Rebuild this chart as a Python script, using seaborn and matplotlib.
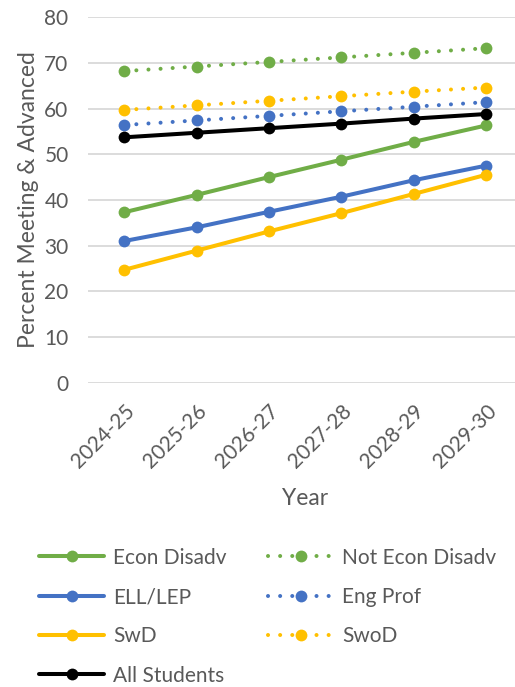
import pandas as pd
import seaborn as sns
import matplotlib.pyplot as plt
from matplotlib.lines import Line2D

years = ["2024-25", "2025-26", "2026-27", "2027-28", "2028-29", "2029-30"]

econ_disadv = [37.3, 41.1, 45.0, 48.8, 52.7, 56.3]
not_econ_disadv = [68.2, 69.2, 70.2, 71.2, 72.2, 73.2]
ell_lep = [31.0, 34.0, 37.4, 40.7, 44.3, 47.5]
eng_prof = [56.4, 57.4, 58.4, 59.4, 60.4, 61.4]
swd = [24.7, 28.9, 33.1, 37.1, 41.3, 45.5]
swod = [59.7, 60.7, 61.7, 62.7, 63.7, 64.6]
all_students = [53.7, 54.7, 55.7, 56.7, 57.8, 58.8]

GREEN = "#70AD47"
BLUE = "#4472C4"
GOLD = "#FFC000"
GREY = "#595959"

# nom, valeurs, couleur, pointillé ?
series = [
    ("Econ Disadv", econ_disadv, GREEN, False),
    ("ELL/LEP", ell_lep, BLUE, False),
    ("SwD", swd, GOLD, False),
    ("All Students", all_students, "black", False),
    ("Not Econ Disadv", not_econ_disadv, GREEN, True),
    ("Eng Prof", eng_prof, BLUE, True),
    ("SwoD", swod, GOLD, True),
]

LW = 2.9
MS = 8.5
DOTS = (0, (0.01, 3.0))

sns.set_style("white")
plt.rcParams['font.family'] = ['Lato', 'DejaVu Sans']

fig = plt.figure(figsize=(5.15, 6.87), dpi=100)
ax = fig.add_axes([0.171, 0.443, 0.843, 0.532])

# ordre de tracé : les lignes pleines par-dessus
draw_order = [4, 6, 5, 0, 1, 2, 3]
for i in draw_order:
    name, vals, col, dotted = series[i]
    df = pd.DataFrame({"Year": years, "Value": vals})
    sns.lineplot(data=df, x="Year", y="Value", ax=ax, color=col, linewidth=LW,
                 linestyle=DOTS if dotted else "-", marker="o", markersize=MS,
                 markeredgewidth=0, dash_capstyle="round", sort=False)

ax.set_xlim(-0.5, 5.5)
ax.set_ylim(0, 80)
ax.set_yticks(range(0, 81, 10))
ax.grid(axis="y", color="#D9D9D9", linewidth=1.3)
ax.set_axisbelow(True)
for s in ax.spines.values():
    s.set_visible(False)
ax.tick_params(axis="both", length=0, labelsize=15, labelcolor=GREY)
ax.tick_params(axis="y", pad=14)
ax.tick_params(axis="x", pad=13)
plt.setp(ax.get_xticklabels(), rotation=45, ha="right", rotation_mode="anchor")
ax.set_xlabel("Year", fontsize=16.5, color=GREY, labelpad=12)
ax.set_ylabel("Percent Meeting & Advanced", fontsize=16.5, color=GREY, labelpad=4)

# légende
handles = []
for name, vals, col, dotted in series:
    handles.append(Line2D([], [], color=col, linewidth=LW,
                          linestyle=DOTS if dotted else "-", marker="o",
                          markersize=MS, markeredgewidth=0, dash_capstyle="round"))
fig.legend(handles, [s[0] for s in series], ncol=2, loc="upper left",
           bbox_to_anchor=(0.06, 0.215), frameon=False, fontsize=15,
           handlelength=3.1, handletextpad=0.45, columnspacing=2.0,
           labelspacing=0.93, labelcolor=GREY, borderaxespad=0)

fig.savefig("out.png", dpi=100)
